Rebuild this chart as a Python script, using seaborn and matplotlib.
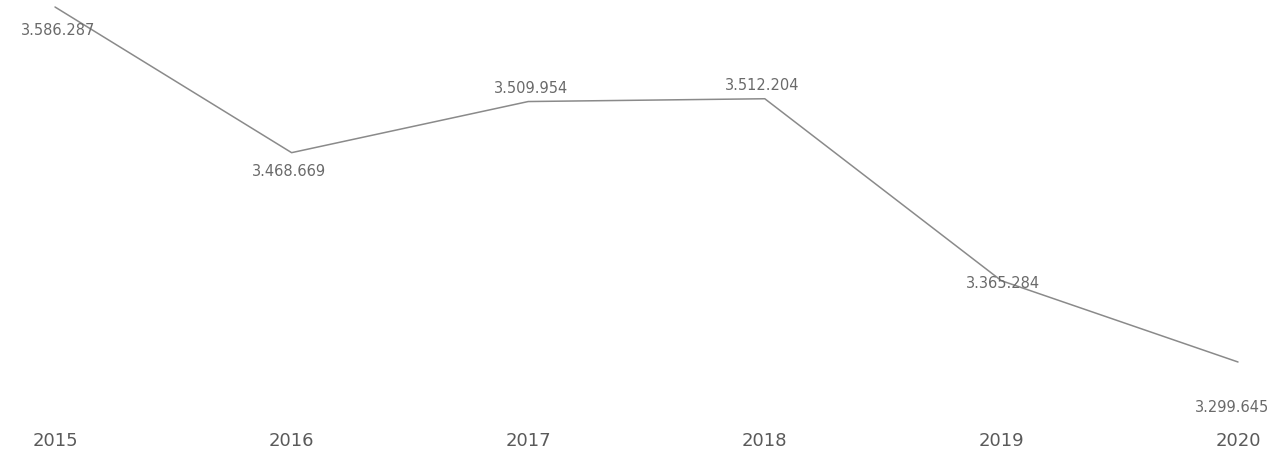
import matplotlib
matplotlib.use("Agg")
import matplotlib.pyplot as plt
import seaborn as sns
import pandas as pd

years = ["2015", "2016", "2017", "2018", "2019", "2020"]
values = [3586287, 3468669, 3509954, 3512204, 3365284, 3299645]
value_labels = ["3.586.287", "3.468.669", "3.509.954", "3.512.204", "3.365.284", "3.299.645"]

sns.set_theme(style="white")
plt.rcParams["font.family"] = ["DejaVu Sans"]

df = pd.DataFrame({"pos": range(len(years)), "value": values})

fig = plt.figure(figsize=(12.81, 4.56), dpi=100)
ax = fig.add_axes([0, 36 / 456, 1, 420 / 456])
sns.lineplot(data=df, x="pos", y="value", ax=ax, color="#8a8a8a", linewidth=1.1)

ax.set_xlim(-0.2325, 5.1817)
ax.set_ylim(3253622, 3592746)

# label offsets in points (dx, dy)
offsets = [(2, -16), (-2, -13), (2, 10), (-2, 10), (1, -1), (-4, -32)]
for i, (v, lab) in enumerate(zip(values, value_labels)):
    dx, dy = offsets[i]
    ax.annotate(lab, (i, v), xytext=(dx, dy), textcoords="offset points",
                ha="center", va="center", fontsize=10.5, color="#6a6a6a")

ax.set_xticks(range(len(years)))
ax.set_xticklabels(years, fontsize=13, color="#5a5a5a")
ax.tick_params(axis="x", length=0, pad=9)
ax.set_yticks([])
ax.set_xlabel("")
ax.set_ylabel("")
for s in ax.spines.values():
    s.set_visible(False)

fig.savefig("out.png", dpi=100, facecolor="white")
